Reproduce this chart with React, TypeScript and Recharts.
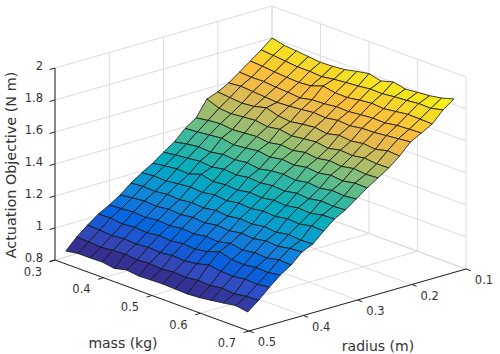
import React from 'react';
import { ScatterChart, Scatter, XAxis, YAxis } from 'recharts';

const massValues = [0.3, 0.325, 0.35, 0.375, 0.4, 0.425, 0.45, 0.475, 0.5, 0.525, 0.55, 0.575, 0.6, 0.625, 0.65, 0.675];
const radiusValues = [0.1, 0.12, 0.14, 0.16, 0.18, 0.2, 0.22, 0.24, 0.26, 0.28, 0.3, 0.32, 0.34, 0.36, 0.38, 0.4, 0.42, 0.44, 0.46, 0.48];

// one row per radius, one column per mass
const objective = [
  [1.800, 1.782, 1.775, 1.767, 1.759, 1.762, 1.769, 1.786, 1.799, 1.781, 1.803, 1.786, 1.793, 1.800, 1.813, 1.835],
  [1.745, 1.738, 1.730, 1.722, 1.722, 1.716, 1.728, 1.735, 1.741, 1.750, 1.748, 1.757, 1.762, 1.770, 1.768, 1.786],
  [1.695, 1.690, 1.682, 1.676, 1.672, 1.678, 1.705, 1.690, 1.688, 1.700, 1.708, 1.702, 1.712, 1.722, 1.720, 1.717],
  [1.645, 1.640, 1.642, 1.634, 1.630, 1.622, 1.638, 1.641, 1.650, 1.648, 1.656, 1.662, 1.660, 1.672, 1.676, 1.680],
  [1.596, 1.604, 1.598, 1.592, 1.586, 1.590, 1.597, 1.606, 1.600, 1.612, 1.606, 1.618, 1.620, 1.628, 1.636, 1.644],
  [1.560, 1.552, 1.545, 1.552, 1.572, 1.548, 1.540, 1.552, 1.560, 1.548, 1.566, 1.558, 1.570, 1.562, 1.580, 1.575],
  [1.535, 1.505, 1.498, 1.506, 1.512, 1.500, 1.512, 1.498, 1.508, 1.516, 1.504, 1.520, 1.514, 1.526, 1.518, 1.520],
  [1.436, 1.448, 1.455, 1.446, 1.452, 1.458, 1.448, 1.462, 1.454, 1.470, 1.460, 1.474, 1.466, 1.480, 1.472, 1.477],
  [1.390, 1.396, 1.404, 1.412, 1.398, 1.406, 1.416, 1.404, 1.418, 1.410, 1.424, 1.416, 1.430, 1.422, 1.436, 1.434],
  [1.325, 1.340, 1.350, 1.344, 1.358, 1.352, 1.362, 1.350, 1.366, 1.372, 1.362, 1.376, 1.368, 1.382, 1.376, 1.384],
  [1.280, 1.290, 1.298, 1.306, 1.298, 1.312, 1.304, 1.316, 1.310, 1.320, 1.314, 1.328, 1.322, 1.336, 1.330, 1.335],
  [1.230, 1.242, 1.250, 1.246, 1.272, 1.254, 1.262, 1.256, 1.270, 1.264, 1.276, 1.270, 1.284, 1.278, 1.294, 1.298],
  [1.190, 1.198, 1.194, 1.204, 1.212, 1.206, 1.218, 1.210, 1.222, 1.216, 1.228, 1.222, 1.236, 1.230, 1.246, 1.242],
  [1.145, 1.152, 1.148, 1.158, 1.152, 1.162, 1.156, 1.168, 1.160, 1.172, 1.166, 1.178, 1.170, 1.184, 1.176, 1.180],
  [1.090, 1.100, 1.108, 1.102, 1.112, 1.106, 1.116, 1.110, 1.122, 1.116, 1.128, 1.122, 1.136, 1.130, 1.144, 1.150],
  [1.047, 1.052, 1.058, 1.052, 1.062, 1.056, 1.066, 1.060, 1.072, 1.066, 1.084, 1.070, 1.082, 1.076, 1.092, 1.088],
  [1.010, 1.012, 1.002, 1.010, 1.004, 1.014, 1.008, 1.018, 1.012, 1.024, 1.052, 1.030, 1.026, 1.036, 1.032, 1.044],
  [0.960, 0.956, 0.950, 0.958, 0.952, 0.960, 0.954, 0.964, 0.958, 0.968, 0.988, 0.976, 0.972, 0.982, 0.978, 0.988],
  [0.905, 0.902, 0.896, 0.904, 0.908, 0.900, 0.906, 0.898, 0.908, 0.902, 0.912, 0.906, 0.918, 0.910, 0.922, 0.925],
  [0.837, 0.849, 0.849, 0.851, 0.839, 0.857, 0.847, 0.850, 0.852, 0.849, 0.846, 0.851, 0.861, 0.872, 0.884, 0.872],
];

const massTicks = [0.3, 0.4, 0.5, 0.6, 0.7];
const radiusTicks = [0.1, 0.2, 0.3, 0.4, 0.5];
const objectiveTicks = [0.8, 1, 1.2, 1.4, 1.6, 1.8, 2];

// parula colormap stops
const parula = [
  [53, 42, 135], [50, 76, 194], [3, 99, 225], [20, 125, 219], [6, 155, 209], [6, 172, 190],
  [46, 183, 164], [113, 190, 128], [182, 189, 100], [232, 185, 78], [253, 191, 56], [246, 222, 36], [249, 251, 14],
];

const W = 500;
const H = 354;

// view transform of the 3D axes box
const project = (m: number, r: number, z: number) => {
  const u = (m - 0.3) / 0.4;
  const v = (0.5 - r) / 0.4;
  return {
    x: 55 + 217 * v + 194 * u,
    y: 260 - 62 * v + 71 * u - 160 * (z - 0.8),
  };
};

const colorOf = (z: number) => {
  const t = Math.min(0.9999, Math.max(0, (z - 0.86) / (1.835 - 0.86))) * (parula.length - 1);
  const k = Math.floor(t);
  const c = parula[k].map((a, idx) => Math.round(a + (parula[k + 1][idx] - a) * (t - k)));
  return `rgb(${c[0]},${c[1]},${c[2]})`;
};

const noMark = () => <g />;

const gridSegments: { x: number; y: number }[][] = [];
massTicks.forEach((m) => {
  gridSegments.push([project(m, 0.1, 0.8), project(m, 0.1, 2)]);
  gridSegments.push([project(m, 0.1, 0.8), project(m, 0.5, 0.8)]);
});
radiusTicks.forEach((r) => {
  gridSegments.push([project(0.3, r, 0.8), project(0.3, r, 2)]);
  gridSegments.push([project(0.3, r, 0.8), project(0.7, r, 0.8)]);
});
objectiveTicks.forEach((z) => {
  gridSegments.push([project(0.3, 0.5, z), project(0.3, 0.1, z)]);
  gridSegments.push([project(0.3, 0.1, z), project(0.7, 0.1, z)]);
});

const axisSegments: { x: number; y: number }[][] = [
  [project(0.3, 0.5, 0.8), project(0.3, 0.5, 2)],
  [project(0.3, 0.5, 0.8), project(0.7, 0.5, 0.8)],
  [project(0.7, 0.5, 0.8), project(0.7, 0.1, 0.8)],
];
objectiveTicks.forEach((z) => axisSegments.push([project(0.3, 0.5, z), project(0.3, 0.51, z)]));
massTicks.forEach((m) => axisSegments.push([project(m, 0.5, 0.8), project(m, 0.51, 0.8)]));
radiusTicks.forEach((r) => axisSegments.push([project(0.7, r, 0.8), project(0.71, r, 0.8)]));

const facets: { pts: { x: number; y: number }[]; fill: string }[] = [];
radiusValues.slice(0, -1).forEach((r, j) => {
  massValues.slice(0, -1).forEach((m, i) => {
    const zs = [objective[j][i], objective[j][i + 1], objective[j + 1][i + 1], objective[j + 1][i]];
    facets.push({
      pts: [
        project(m, r, zs[0]),
        project(massValues[i + 1], r, zs[1]),
        project(massValues[i + 1], radiusValues[j + 1], zs[2]),
        project(m, radiusValues[j + 1], zs[3]),
      ],
      fill: colorOf((zs[0] + zs[1] + zs[2] + zs[3]) / 4),
    });
  });
});

const labels: { x: number; y: number; text: string; anchor?: string; size?: number; rotate?: number }[] = [
  ...objectiveTicks.map((z) => {
    const p = project(0.3, 0.5, z);
    return { x: p.x - 12, y: p.y - 2, text: String(z), anchor: 'end' };
  }),
  ...massTicks.map((m) => {
    const p = project(m, 0.5, 0.8);
    return { x: p.x - 22, y: p.y + 11.5, text: m.toFixed(1) };
  }),
  ...radiusTicks.map((r) => {
    const p = project(0.7, r, 0.8);
    return { x: p.x + 18, y: p.y + 11, text: r.toFixed(1) };
  }),
  { x: 123, y: 343, text: 'mass (kg)', size: 14 },
  { x: 378, y: 346, text: 'radius (m)', size: 14 },
  { x: 11, y: 165, text: 'Actuation Objective (N m)', size: 14.4, rotate: -90 },
];

const LabelMark = (props: any) => {
  const { cx, cy, payload } = props;
  return (
    <text
      x={cx}
      y={cy}
      dy="0.35em"
      textAnchor={payload.anchor || 'middle'}
      fontSize={payload.size || 11.5}
      fontFamily="DejaVu Sans"
      fill="#333"
      transform={payload.rotate ? `rotate(${payload.rotate} ${cx} ${cy})` : undefined}
    >
      {payload.text}
    </text>
  );
};

const App = () => (
  <div style={{ position: 'absolute', left: 0, top: 0 }}>
    <ScatterChart width={W} height={H} margin={{ top: 0, right: 0, bottom: 0, left: 0 }}>
      <XAxis type="number" dataKey="x" domain={[0, W]} hide />
      <YAxis type="number" dataKey="y" domain={[0, H]} reversed hide />
      {gridSegments.map((seg, idx) => (
        <Scatter
          key={`grid-${idx}`}
          data={seg}
          line={{ stroke: '#dcdcdc', strokeWidth: 1 }}
          shape={noMark}
          isAnimationActive={false}
        />
      ))}
      {axisSegments.map((seg, idx) => (
        <Scatter
          key={`axis-${idx}`}
          data={seg}
          line={{ stroke: '#262626', strokeWidth: 1 }}
          shape={noMark}
          isAnimationActive={false}
        />
      ))}
      {facets.map((f, idx) => (
        <Scatter
          key={`facet-${idx}`}
          data={f.pts}
          line={(p: any) => (
            <polygon
              points={p.points.map((q: any) => `${q.x},${q.y}`).join(' ')}
              fill={f.fill}
              stroke="#111"
              strokeWidth={0.8}
              strokeLinejoin="round"
            />
          )}
          shape={noMark}
          isAnimationActive={false}
        />
      ))}
      <Scatter data={labels} shape={LabelMark} isAnimationActive={false} />
    </ScatterChart>
  </div>
);

export default App;
